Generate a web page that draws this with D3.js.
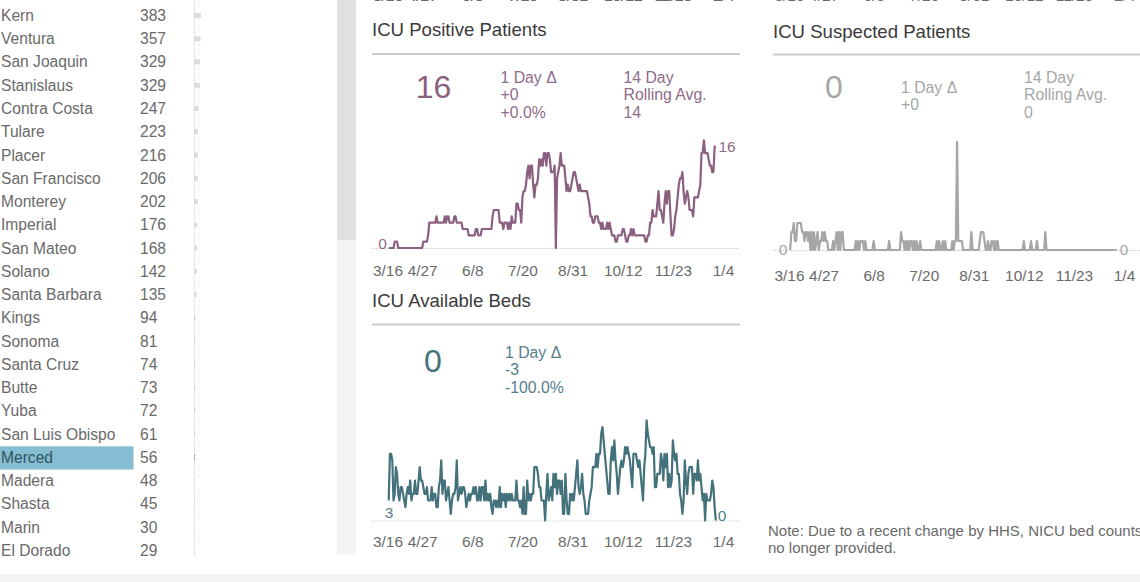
<!DOCTYPE html>
<html><head><meta charset="utf-8">
<script src="https://cdnjs.cloudflare.com/ajax/libs/d3/7.8.5/d3.min.js"></script>
<style>
html,body{margin:0;padding:0;background:#fff;overflow:hidden}
svg{display:block}
text{font-family:"Liberation Sans",Arial,sans-serif}
.tick line,.domain{display:none}
</style></head><body>
<svg id="c" width="1140" height="582"></svg>
<script>
const counties=["Kern","Ventura","San Joaquin","Stanislaus","Contra Costa","Tulare","Placer","San Francisco","Monterey","Imperial","San Mateo","Solano","Santa Barbara","Kings","Sonoma","Santa Cruz","Butte","Yuba","San Luis Obispo","Merced","Madera","Shasta","Marin","El Dorado"];
const countyValues=[383,357,329,329,247,223,216,206,202,176,168,142,135,94,81,74,73,72,61,56,48,45,30,29];
const selectedCounty="Merced";
const tickLabels=["3/16","4/27","6/8","7/20","8/31","10/12","11/23","1/4"];
const tickDates=["2020-03-16","2020-04-27","2020-06-08","2020-07-20","2020-08-31","2020-10-12","2020-11-23","2021-01-04"];
const firstDay="2020-03-30";
const positive=[0,0,0,0,0,1,1,1,0,0,
0,0,0,0,0,0,0,0,0,0,
0,0,0,0,0,0,0,0,0,1,
1,1,1,2,4,4,4,4,4,4,
5,4,4,4,4,4,4,5,4,5,
5,4,4,4,4,5,5,4,4,4,
4,4,3,3,3,3,3,2,2,2,
2,2,2,3,3,2,2,2,3,3,
3,3,3,3,3,3,3,5,6,6,
6,6,6,4,4,4,3,4,4,4,
3,4,3,5,4,4,4,7,7,6,
6,4,8,9,9,10,12,13,11,13,
13,10,8,10,10,11,14,13,14,13,
15,15,13,15,15,14,12,12,12,13,
0,11,12,13,15,13,13,13,11,9,
10,9,9,10,11,12,12,11,10,9,
10,9,9,9,9,9,9,8,7,5,
5,4,4,5,5,5,4,4,3,4,
3,3,3,4,3,4,3,2,2,2,
1,1,2,2,2,2,3,3,2,1,
1,2,2,3,2,3,2,2,2,2,
2,2,2,2,2,1,1,2,2,4,
4,6,5,5,5,7,9,6,6,5,
4,7,9,7,9,9,5,2,2,3,
5,6,8,10,11,11,12,9,7,8,
9,8,6,6,6,5,8,8,8,8,
9,10,15,15,17,15,15,15,14,13,
13,12,12,16,16];
const suspected=[0,2,2,3,1,1,3,3,3,3,
2,2,1,2,2,1,2,0,2,0,
2,0,1,2,0,1,1,2,1,2,
1,1,0,0,0,0,1,0,1,2,
0,2,0,2,2,0,0,0,0,0,
0,0,0,0,0,1,0,1,0,1,
1,1,0,1,0,0,0,0,0,0,
1,0,0,0,0,0,0,0,0,0,
0,0,0,1,0,0,0,0,0,0,
0,0,0,2,1,1,0,1,0,1,
0,1,1,0,1,0,1,0,0,1,
0,0,0,0,0,0,0,0,0,0,
0,0,0,1,0,1,0,0,1,0,
1,0,0,0,0,0,1,0,1,1,
12,1,1,1,1,0,0,0,0,0,
0,0,2,0,0,0,0,0,0,1,
2,2,2,1,0,0,1,0,0,1,
1,0,1,0,1,0,0,0,0,0,
0,0,0,0,0,0,0,0,0,0,
0,0,0,0,0,0,1,0,0,0,
0,0,1,0,0,0,0,1,0,0,
0,0,0,0,2,0,0,0,0,0,
0,0,0,0,0,0,0,0,0,0,
0,0,0,0,0,0,0,0,0,0,
0,0,0,0,0,0,0,0,0,0,
0,0,0,0,0,0,0,0,0,0,
0,0,0,0,0,0,0,0,0,0,
0,0,0,0,0];
const available=[3,10,10,9,3,4,8,7,4,3,
5,5,4,3,2,4,5,4,6,3,
4,4,6,4,4,6,8,6,6,5,
4,4,5,3,3,3,5,3,4,4,
2,2,5,6,9,4,6,6,3,4,
5,3,1,3,4,4,5,9,3,4,
5,4,5,5,4,2,3,4,3,4,
4,5,4,5,3,3,5,3,5,5,
3,6,3,4,3,4,2,1,3,3,
2,3,2,5,2,4,3,4,2,4,
3,4,3,4,3,3,3,6,3,3,
2,3,1,5,1,1,6,3,4,3,
4,4,8,8,8,7,5,5,3,3,
3,0,4,7,3,4,5,3,7,5,
7,4,6,6,4,6,1,1,7,3,
1,1,4,3,4,3,5,7,9,5,
4,5,7,4,3,1,1,1,3,4,
5,8,8,8,10,8,10,10,13,14,
12,10,8,6,4,4,9,11,9,12,
9,7,4,6,8,9,8,9,11,10,
11,10,9,7,5,10,10,10,9,8,
9,7,5,3,8,10,15,13,12,11,
11,10,11,5,5,7,7,7,10,9,
6,10,8,10,5,7,5,6,12,10,
9,10,7,7,4,3,1,3,9,6,
4,7,8,8,8,4,7,7,6,9,
6,7,5,3,4,0,4,3,3,3,
4,6,5,2,0];
const positiveStats={big:"16",delta:["1 Day Δ","+0","+0.0%"],roll:["14 Day","Rolling Avg.","14"]};
const suspectedStats={big:"0",delta:["1 Day Δ","+0"],roll:["14 Day","Rolling Avg.","0"]};
const availableStats={big:"0",delta:["1 Day Δ","-3","-100.0%"],roll:[]};

const svg=d3.select("#c");
const parse=d3.utcParse("%Y-%m-%d");
const start=parse(firstDay);
const dates=positive.map((_,i)=>d3.utcDay.offset(start,i));

svg.append("rect").attr("x",337).attr("y",0).attr("width",19).attr("height",555).attr("fill","#f4f4f4");
svg.append("rect").attr("x",337).attr("y",0).attr("width",19).attr("height",240).attr("fill","#e0e0e0");
svg.append("rect").attr("x",0).attr("y",574).attr("width",1140).attr("height",8).attr("fill","#f3f3f3");

const rowY=d3.scalePoint().domain(counties).range([15.5,550.5]);
const barX=d3.scaleLinear().domain([0,383]).range([194,201]);
const rowH=23.2;
const rows=svg.append("g").selectAll("g").data(counties).join("g");
rows.filter(d=>d===selectedCounty).append("rect")
  .attr("x",0).attr("width",133.5).attr("y",d=>rowY(d)-rowH/2+.5).attr("height",rowH).attr("fill","#86bdd2");
rows.append("text").attr("x",1).attr("y",d=>rowY(d)).attr("dy",".35em").attr("font-size",15.6)
  .attr("fill",d=>d===selectedCounty?"#2f5560":"#6a6a6a").text(d=>d);
rows.append("text").attr("x",140).attr("y",d=>rowY(d)).attr("dy",".35em").attr("font-size",15.6)
  .attr("fill","#6a6a6a").text((d,i)=>countyValues[i]);
svg.append("line").attr("x1",194.5).attr("x2",194.5).attr("y1",0).attr("y2",555)
  .attr("stroke","#d4d4d4").attr("stroke-dasharray","1 1");
rows.append("rect").attr("x",194).attr("y",d=>rowY(d)-2.5).attr("height",5)
  .attr("width",(d,i)=>barX(countyValues[i])-194)
  .attr("fill",d=>d===selectedCounty?"#888":"#dcdcdc");

function panel(o){
  const g=svg.append("g");
  const x=d3.scaleUtc().domain([parse(tickDates[0]),parse(tickDates[tickDates.length-1])]).range(o.xr);
  const y=d3.scaleLinear().domain([0,1]).range([o.base,o.base-o.unit]);
  g.append("text").attr("x",o.x0).attr("y",o.titleY).attr("dy",".35em").attr("font-size",18.6).attr("fill","#3a3a3a").text(o.title);
  g.append("line").attr("x1",o.x0).attr("x2",o.x0+368).attr("y1",o.ruleY).attr("y2",o.ruleY).attr("stroke","#ccc").attr("stroke-width",2);
  g.append("text").attr("x",o.bigX).attr("y",o.bigY).attr("dy",".35em").attr("text-anchor","middle").attr("font-size",32).attr("fill",o.color).text(o.stats.big);
  o.stats.delta.forEach((t,i)=>g.append("text").attr("x",o.dx).attr("y",o.dy+i*17.6).attr("dy",".35em").attr("font-size",15.8).attr("fill",o.soft).text(t));
  o.stats.roll.forEach((t,i)=>g.append("text").attr("x",o.rx).attr("y",77+i*17.6).attr("dy",".35em").attr("font-size",15.8).attr("fill",o.soft).text(t));
  g.append("line").attr("x1",o.x0).attr("x2",o.x0+368).attr("y1",o.base+.5).attr("y2",o.base+.5).attr("stroke","#ccc").attr("stroke-dasharray","1 1");
  const line=d3.line().x((d,i)=>x(dates[i])).y(d=>y(d));
  g.append("path").datum(o.values).attr("d",line).attr("fill","none").attr("stroke",o.color).attr("stroke-width",2.2).attr("stroke-linejoin","round");
  o.labels.forEach(l=>g.append("text").attr("x",l[0]).attr("y",l[1]).attr("dy",".35em").attr("font-size",15.5).attr("fill",o.soft).attr("text-anchor","middle").text(l[2]));
  axis(x,o.tickY);
  axis(x,-4);
}
function axis(x,ty){
  const ax=d3.axisBottom(x).tickValues(tickDates.map(parse)).tickFormat((d,i)=>tickLabels[i]).tickSize(0).tickPadding(0);
  const a=svg.append("g").attr("transform",`translate(0,${ty})`).call(ax);
  a.selectAll("text").attr("font-size",15.4).attr("fill","#6a6a6a").attr("dy",".35em").attr("y",0);
  a.select(".tick text").attr("text-anchor","start").attr("dx",0.5);
}
panel({title:"ICU Positive Patients",x0:372,titleY:29,ruleY:54,xr:[372,723],base:248,unit:6.33,values:positive,color:"#8b5f80",soft:"#8f6b87",
  stats:positiveStats,bigX:433.5,bigY:87,dx:500.5,dy:77,rx:623.5,tickY:271,labels:[[382.5,244,"0"],[727,147,"16"]]});
panel({title:"ICU Available Beds",x0:372,titleY:300,ruleY:324.5,xr:[372,723],base:520.5,unit:6.67,values:available,color:"#44727c",soft:"#55808a",
  stats:availableStats,bigX:433,bigY:361,dx:505,dy:352,rx:0,tickY:542,labels:[[389,513,"3"],[722,516,"0"]]});
panel({title:"ICU Suspected Patients",x0:773,titleY:31,ruleY:54.5,xr:[773.5,1124],base:250,unit:9,values:suspected,color:"#a6a6a6",soft:"#a6a6a6",
  stats:suspectedStats,bigX:834,bigY:87,dx:901,dy:87,rx:1024,tickY:276,labels:[[783,250,"0"],[1124,250,"0"]]});

svg.append("text").attr("x",768).attr("y",531).attr("dy",".35em").attr("font-size",15).attr("fill","#6a6a6a").text("Note: Due to a recent change by HHS, NICU bed counts are");
svg.append("text").attr("x",768).attr("y",548).attr("dy",".35em").attr("font-size",15).attr("fill","#6a6a6a").text("no longer provided.");
</script>
</body></html>
